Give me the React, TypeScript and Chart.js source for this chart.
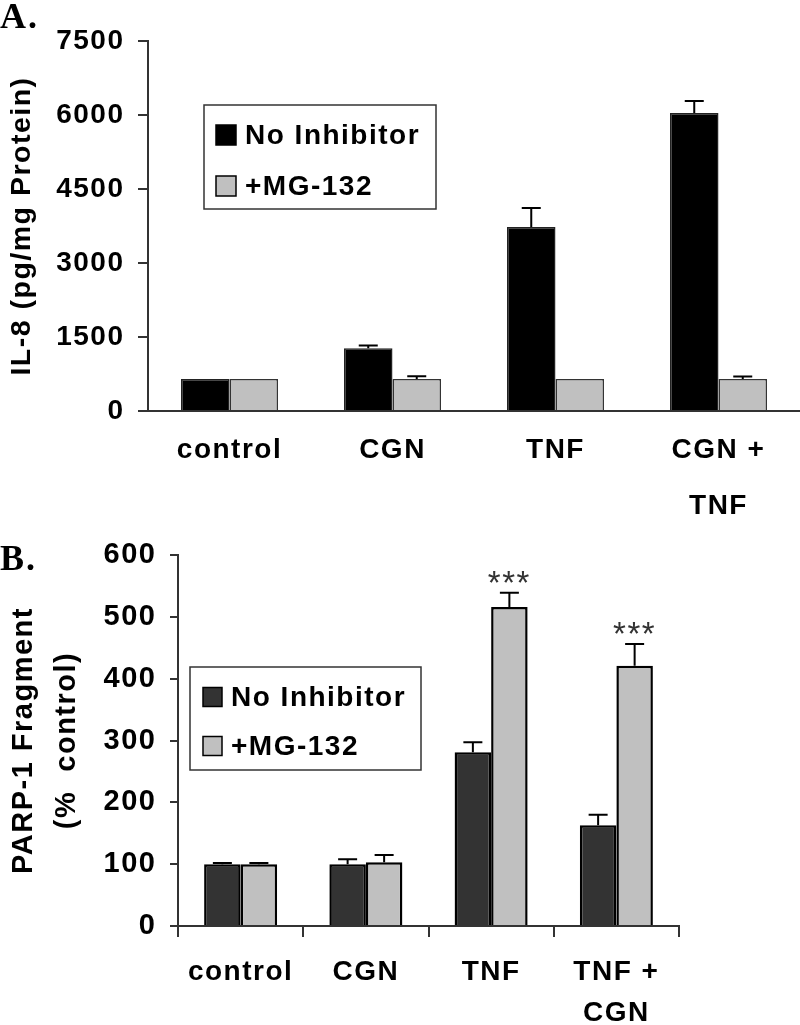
import React, { useEffect, useRef } from 'react';
import { Chart, registerables } from 'chart.js';

Chart.register(...registerables);

const FONT = '"Liberation Sans", Arial, sans-serif';
const SERIF = '"Liberation Serif", "Times New Roman", serif';

// ---------- Panel A data ----------
const categoriesA: (string | string[])[] = ['control', 'CGN', 'TNF', ['CGN +', 'TNF']];
const seriesNames = ['No Inhibitor', '+MG-132'];
const noInhibitorA = [650, 1270, 3730, 6040];
const noInhibitorErrA = [0, 60, 385, 245];
const mg132A = [650, 650, 650, 650];
const mg132ErrA = [0, 55, 0, 50];
const yTicksA = [0, 1500, 3000, 4500, 6000, 7500];
const yTitleA = 'IL-8 (pg/mg Protein)';

// ---------- Panel B data ----------
const categoriesB: (string | string[])[] = ['control', 'CGN', 'TNF', ['TNF +', 'CGN']];
const noInhibitorB = [100, 100, 281, 163];
const noInhibitorErrB = [2, 8, 16, 17];
const mg132B = [100, 103, 516, 421];
const mg132ErrB = [2, 12, 23, 35];
const starsB = ['', '', '***', '***'];
const yTicksB = [0, 100, 200, 300, 400, 500, 600];
const yTitleB = ['PARP-1 Fragment', '(%  control)'];

const LS = '1.5px';

const spacingPlugin = {
  id: 'spacing',
  beforeUpdate(chart: any) { chart.ctx.letterSpacing = LS; },
  beforeLayout(chart: any) { chart.ctx.letterSpacing = LS; },
  beforeDraw(chart: any) { chart.ctx.letterSpacing = LS; },
};

const panelPlugin = {
  id: 'panel',
  afterDatasetsDraw(chart: any) {
    const ctx = chart.ctx;
    const ys = chart.scales.y;
    chart.data.datasets.forEach((ds: any, i: number) => {
      const meta = chart.getDatasetMeta(i);
      meta.data.forEach((bar: any, j: number) => {
        const v = ds.data[j];
        const e = (ds.errors && ds.errors[j]) || 0;
        const topPx = ys.getPixelForValue(v + e);
        if (e > 0) {
          ctx.save();
          ctx.strokeStyle = '#000';
          ctx.lineWidth = 2;
          ctx.beginPath();
          ctx.moveTo(bar.x, bar.y);
          ctx.lineTo(bar.x, topPx);
          ctx.moveTo(bar.x - 9.5, topPx);
          ctx.lineTo(bar.x + 9.5, topPx);
          ctx.stroke();
          ctx.restore();
        }
        const star = ds.stars && ds.stars[j];
        if (star) {
          ctx.save();
          ctx.letterSpacing = '1.5px';
          ctx.font = `normal 33px ${FONT}`;
          ctx.fillStyle = '#333';
          ctx.textAlign = 'center';
          ctx.textBaseline = 'alphabetic';
          const center = topPx - 18;
          ctx.fillText(star, bar.x, center + 0.585 * 33);
          ctx.restore();
        }
      });
    });
  },
  afterDraw(chart: any, _args: any, opts: any) {
    const ctx = chart.ctx;
    // panel letter
    ctx.save();
    ctx.letterSpacing = '2px';
    ctx.font = `bold 36px ${SERIF}`;
    ctx.fillStyle = '#000';
    ctx.textAlign = 'left';
    ctx.textBaseline = 'alphabetic';
    ctx.fillText(opts.letter, 0, opts.letterY);
    ctx.restore();

    // legend box
    ctx.save();
    ctx.fillStyle = '#fff';
    ctx.fillRect(opts.lx, opts.ly, opts.lw, opts.lh);
    ctx.strokeStyle = '#333';
    ctx.lineWidth = 1.5;
    ctx.strokeRect(opts.lx, opts.ly, opts.lw, opts.lh);
    ctx.letterSpacing = LS;
    ctx.font = `bold 28px ${FONT}`;
    ctx.textAlign = 'left';
    ctx.textBaseline = 'middle';
    chart.data.datasets.forEach((ds: any, i: number) => {
      const cy = opts.row1 + i * opts.rowGap;
      const m = opts.marker;
      ctx.fillStyle = ds.backgroundColor;
      ctx.fillRect(opts.mx, cy - m / 2, m, m);
      ctx.strokeStyle = '#000';
      ctx.lineWidth = 1.5;
      ctx.strokeRect(opts.mx, cy - m / 2, m, m);
      ctx.fillStyle = '#000';
      ctx.fillText(ds.label, opts.tx, cy + 1);
    });
    ctx.restore();
  },
};

const tickFont = (size: number, lh = 1.2) => ({ family: FONT, size, weight: 'bold' as const, lineHeight: lh });

const configA: any = {
  type: 'bar',
  data: {
    labels: categoriesA,
    datasets: [
      {
        label: seriesNames[0], data: noInhibitorA, errors: noInhibitorErrA,
        backgroundColor: '#000000', borderColor: '#222', borderWidth: 1.5,
        categoryPercentage: 0.595, barPercentage: 1,
      },
      {
        label: seriesNames[1], data: mg132A, errors: mg132ErrA,
        backgroundColor: '#c0c0c0', borderColor: '#333', borderWidth: 1.5,
        categoryPercentage: 0.595, barPercentage: 1,
      },
    ],
  },
  options: {
    animation: false,
    responsive: false,
    events: [],
    layout: { padding: { top: 41, left: 0, right: 0, bottom: 0 } },
    plugins: {
      legend: { display: false },
      tooltip: { enabled: false },
      panel: {
        letter: 'A.', letterY: 28,
        lx: 204, ly: 105, lw: 232, lh: 104,
        mx: 216, marker: 20, tx: 245, row1: 135, rowGap: 51,
      },
    },
    scales: {
      x: {
        grid: { display: false },
        border: { display: true, color: '#333', width: 2 },
        ticks: { color: '#000', font: tickFont(28, 2.0), padding: 3, maxRotation: 0, autoSkip: false },
        afterFit: (s: any) => { s.height = 520 - 411; },
      },
      y: {
        min: 0, max: 7500,
        afterBuildTicks: (s: any) => { s.ticks = yTicksA.map((v) => ({ value: v })); },
        grid: { drawOnChartArea: false, drawTicks: true, tickLength: 10, color: '#333', lineWidth: 2 },
        border: { display: true, color: '#333', width: 2 },
        ticks: { color: '#000', font: tickFont(28), padding: 13.5, callback: (v: any) => String(v) },
        title: { display: true, text: yTitleA, color: '#000', font: tickFont(28.5), padding: { top: 5, bottom: 0 } },
        afterFit: (s: any) => { s.width = 148; },
      },
    },
  },
  plugins: [spacingPlugin, panelPlugin],
};

const configB: any = {
  type: 'bar',
  data: {
    labels: categoriesB,
    datasets: [
      {
        label: seriesNames[0], data: noInhibitorB, errors: noInhibitorErrB,
        backgroundColor: '#333333', borderColor: '#000', borderWidth: 2.5,
        categoryPercentage: 0.583, barPercentage: 1,
      },
      {
        label: seriesNames[1], data: mg132B, errors: mg132ErrB, stars: starsB,
        backgroundColor: '#c0c0c0', borderColor: '#000', borderWidth: 2.5,
        categoryPercentage: 0.583, barPercentage: 1,
      },
    ],
  },
  options: {
    animation: false,
    responsive: false,
    events: [],
    layout: { padding: { top: 35, left: 0, right: 121, bottom: 0 } },
    plugins: {
      legend: { display: false },
      tooltip: { enabled: false },
      panel: {
        letter: 'B.', letterY: 50,
        lx: 190, ly: 147, lw: 231, lh: 103,
        mx: 203, marker: 19, tx: 231, row1: 177, rowGap: 49,
      },
    },
    scales: {
      x: {
        grid: { display: true, drawOnChartArea: false, drawTicks: true, tickLength: 11, color: '#333', lineWidth: 2 },
        border: { display: true, color: '#333', width: 2 },
        ticks: { color: '#000', font: tickFont(28, 1.46), padding: 14.5, maxRotation: 0, autoSkip: false },
        afterFit: (s: any) => { s.height = 505 - 406; },
      },
      y: {
        min: 0, max: 600,
        afterBuildTicks: (s: any) => { s.ticks = yTicksB.map((v) => ({ value: v })); },
        grid: { drawOnChartArea: false, drawTicks: true, tickLength: 8, color: '#333', lineWidth: 2 },
        border: { display: true, color: '#333', width: 2 },
        ticks: { color: '#000', font: tickFont(29), padding: 13.5, callback: (v: any) => String(v) },
        title: { display: true, text: yTitleB, color: '#000', font: tickFont(29, 1.48), padding: { top: 2.5, bottom: 0 } },
        afterFit: (s: any) => { s.width = 178; },
      },
    },
  },
  plugins: [spacingPlugin, panelPlugin],
};

function ChartCanvas({ config, top, height }: { config: any; top: number; height: number }) {
  const ref = useRef<HTMLCanvasElement | null>(null);
  useEffect(() => {
    if (!ref.current) return;
    const chart = new Chart(ref.current, config);
    return () => chart.destroy();
  }, [config]);
  return (
    <canvas
      ref={ref}
      width={800}
      height={height}
      style={{ position: 'absolute', left: 0, top, width: 800, height, display: 'block' }}
    />
  );
}

export default function App() {
  return (
    <div style={{ position: 'absolute', left: 0, top: 0, width: 800, height: 1025, background: '#fff', overflow: 'hidden' }}>
      <ChartCanvas config={configA} top={0} height={520} />
      <ChartCanvas config={configB} top={520} height={505} />
    </div>
  );
}
